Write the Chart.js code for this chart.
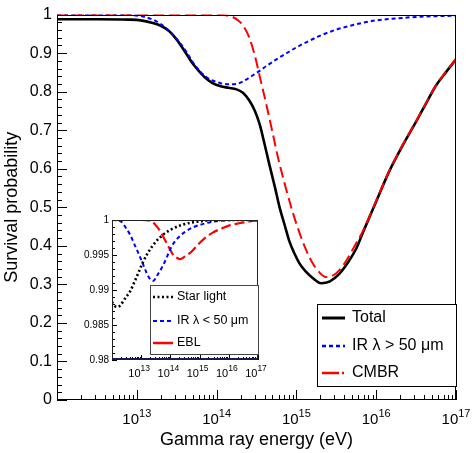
<!DOCTYPE html>
<html><head><meta charset="utf-8">
<script src="https://cdn.jsdelivr.net/npm/chart.js@4"></script>
<style>
html,body{margin:0;padding:0;background:#fff;overflow:hidden}
#wrap{position:relative;width:474px;height:453px}
#main{position:absolute;left:0;top:0}
#inset{position:absolute;left:64px;top:205px}
</style></head><body>
<div id="wrap"><canvas id="main" width="474" height="453"></canvas><canvas id="inset" width="215" height="190"></canvas></div>
<script>
// ---------- data (x = log10 of gamma ray energy in eV) ----------
const xTickExponents = [13, 14, 15, 16, 17];
const mainYTickValues = [0, 0.1, 0.2, 0.3, 0.4, 0.5, 0.6, 0.7, 0.8, 0.9, 1];
const insetYTickValues = [0.98, 0.985, 0.99, 0.995, 1];
const xTitle = 'Gamma ray energy (eV)';
const yTitle = 'Survival probability';

const totalLabel = 'Total';
const totalLogE = [12.0, 12.5, 12.9, 13.05, 13.2, 13.3, 13.4, 13.5, 13.6, 13.7, 13.79, 13.87, 13.95, 14.05, 14.15, 14.25, 14.33, 14.41, 14.48, 14.54, 14.6, 14.66, 14.73, 14.79, 14.85, 14.91, 14.98, 15.04, 15.12, 15.2, 15.31, 15.42, 15.54, 15.65, 15.75, 15.83, 16.0, 16.16, 16.33, 16.5, 16.62, 16.75, 16.88, 17.0];
const totalProb = [0.988, 0.988, 0.987, 0.985, 0.978, 0.971, 0.958, 0.935, 0.905, 0.873, 0.851, 0.834, 0.822, 0.814, 0.810, 0.806, 0.797, 0.777, 0.750, 0.715, 0.665, 0.612, 0.553, 0.499, 0.456, 0.413, 0.378, 0.354, 0.333, 0.317, 0.303, 0.308, 0.328, 0.358, 0.393, 0.433, 0.515, 0.592, 0.660, 0.722, 0.768, 0.816, 0.852, 0.884];

const irLongLabel = 'IR \u03bb > 50 \u03bcm';
const irLongLogE = [12.0, 12.6, 12.9, 13.08, 13.2, 13.29, 13.37, 13.45, 13.54, 13.62, 13.7, 13.79, 13.87, 13.95, 14.05, 14.15, 14.25, 14.35, 14.45, 14.54, 14.62, 14.75, 14.87, 15.0, 15.15, 15.33, 15.5, 15.75, 16.0, 16.25, 16.5, 16.75, 17.0];
const irLongProb = [1.0, 1.0, 0.999, 0.995, 0.987, 0.977, 0.964, 0.948, 0.927, 0.904, 0.877, 0.853, 0.838, 0.829, 0.822, 0.819, 0.820, 0.829, 0.842, 0.854, 0.866, 0.884, 0.899, 0.915, 0.931, 0.948, 0.961, 0.975, 0.985, 0.990, 0.994, 0.996, 0.997];

const cmbrLabel = 'CMBR';
const cmbrLogE = [12.0, 13.0, 14.0, 14.12, 14.2, 14.27, 14.33, 14.41, 14.48, 14.54, 14.62, 14.7, 14.78, 14.87, 14.95, 15.04, 15.12, 15.2, 15.28, 15.37, 15.45, 15.54, 15.62, 15.72, 15.83, 16.0, 16.16, 16.33, 16.5, 16.62, 16.75, 16.88, 17.0];
const cmbrProb = [1.0, 1.0, 1.0, 0.998, 0.994, 0.985, 0.972, 0.940, 0.893, 0.840, 0.770, 0.695, 0.620, 0.548, 0.490, 0.433, 0.390, 0.356, 0.333, 0.319, 0.322, 0.337, 0.360, 0.396, 0.437, 0.517, 0.593, 0.661, 0.723, 0.769, 0.817, 0.853, 0.885];

// inset
const starLabel = 'Star light';
const starLogE = [12.0, 12.1, 12.2, 12.3, 12.4, 12.5, 12.62, 12.72, 12.9, 13.05, 13.23, 13.5, 13.75, 14.0, 14.4, 14.8, 15.2, 15.7, 16.2, 17.0];
const starProb = [0.9883, 0.9877, 0.9876, 0.9879, 0.9885, 0.9891, 0.9898, 0.9907, 0.9924, 0.9939, 0.9953, 0.9969, 0.9979, 0.9986, 0.9993, 0.9997, 0.9999, 1.0, 1.0, 1.0];

const irShortLabel = 'IR \u03bb < 50 \u03bcm';
const irShortLogE = [12.0, 12.2, 12.33, 12.47, 12.62, 12.76, 12.9, 13.05, 13.19, 13.3, 13.41, 13.58, 13.76, 13.9, 14.04, 14.25, 14.5, 14.8, 15.18, 15.5, 15.76, 16.2, 17.0];
const irShortProb = [1.0, 0.99995, 0.9997, 0.9989, 0.9979, 0.9966, 0.9953, 0.9938, 0.9924, 0.9916, 0.9913, 0.9923, 0.9936, 0.9949, 0.9962, 0.9974, 0.9983, 0.9990, 0.9995, 0.9998, 0.9999, 1.0, 1.0];

const eblLabel = 'EBL';
const eblLogE = [12.0, 13.0, 13.3, 13.47, 13.65, 13.82, 13.96, 14.1, 14.22, 14.33, 14.5, 14.73, 14.95, 15.18, 15.45, 15.76, 16.0, 16.32, 16.6, 16.9, 17.0];
const eblProb = [1.0, 1.0, 0.9999, 0.9994, 0.9984, 0.9971, 0.9960, 0.9950, 0.9946, 0.9944, 0.9948, 0.9955, 0.9965, 0.9974, 0.9982, 0.9988, 0.9992, 0.9995, 0.9997, 0.9999, 0.9999];

// ---------- helpers ----------
const FONT = '"Liberation Sans", Arial, Helvetica, sans-serif';
Chart.defaults.font.family = FONT;
Chart.defaults.color = '#000';
const pts = (xs, ys) => xs.map((e, i) => ({x: Math.pow(10, e), y: ys[i]}));

// x tick labels "10" with a raised exponent, placed at the scale's tick positions
const powLabels = {
  id: 'powLabels',
  afterDraw(chart, args, o) {
    const ctx = chart.ctx, x = chart.scales.x;
    ctx.save();
    ctx.fillStyle = '#000'; ctx.textBaseline = 'alphabetic'; ctx.textAlign = 'left';
    x.ticks.forEach(t => {
      const exp = String(Math.round(Math.log10(t.value)));
      ctx.font = o.baseSize + 'px ' + FONT; const wb = ctx.measureText('10').width;
      ctx.font = o.expSize + 'px ' + FONT; const we = ctx.measureText(exp).width;
      const cx = x.getPixelForValue(t.value) + (o.dx || 0);
      const x0 = cx - (wb + we) / 2;
      ctx.font = o.baseSize + 'px ' + FONT; ctx.fillText('10', x0, o.baseY);
      ctx.font = o.expSize + 'px ' + FONT; ctx.fillText(exp, x0 + wb, o.expY);
    });
    ctx.restore();
  }
};

const frameTicks = {
  id: 'frameTicks',
  beforeDraw(chart, args, o) {
    const a = chart.chartArea, ctx = chart.ctx;
    if (o.fill) { ctx.save(); ctx.fillStyle = o.fill; ctx.fillRect(a.left, a.top, a.right - a.left, a.bottom - a.top); ctx.restore(); }
  },
  beforeDatasetsDraw(chart, args, o) {
    const {ctx, chartArea: a, scales: {x, y}} = chart;
    ctx.save();
    ctx.strokeStyle = o.tickColor || '#000'; ctx.lineWidth = 1;
    ctx.beginPath();
    const nMin = Math.round((y.max - y.min) / o.yMinor);
    for (let i = 0; i <= nMin; i++) {
      const v = y.min + i * o.yMinor;
      const isMajor = Math.abs(Math.round(v / o.yMajor) * o.yMajor - v) < 1e-9;
      const py = Math.round(y.getPixelForValue(v)) + 0.5;
      ctx.moveTo(a.left, py); ctx.lineTo(a.left + (isMajor ? o.major : o.minor), py);
    }
    for (let d = 12; d <= 17; d++) {
      for (let k = 1; k <= 9; k++) {
        const v = k * Math.pow(10, d);
        if (v < x.min * 0.999 || v > x.max * 1.001) continue;
        const px = Math.round(x.getPixelForValue(v)) + 0.5;
        ctx.moveTo(px, a.bottom); ctx.lineTo(px, a.bottom - (k === 1 ? o.major : o.minor));
      }
    }
    ctx.stroke();
    ctx.restore();
  },
  afterDatasetsDraw(chart, args, o) {
    const {ctx, chartArea: a} = chart;
    ctx.save();
    ctx.strokeStyle = o.frameColor || '#000'; ctx.lineWidth = 1;
    const l = Math.round(a.left) + 0.5, t = Math.round(a.top) + 0.5, r = Math.round(a.right) - 0.5, b = Math.round(a.bottom) - 0.5;
    ctx.strokeRect(l, t, r - l, b - t);
    if (o.bottomLine) {
      ctx.strokeStyle = o.bottomLine; ctx.lineWidth = 2;
      ctx.beginPath(); ctx.moveTo(a.left, Math.round(a.bottom) - 1); ctx.lineTo(a.right, Math.round(a.bottom) - 1); ctx.stroke();
    }
    ctx.restore();
  }
};

const boxLegend = {
  id: 'boxLegend',
  afterDraw(chart, args, o) {
    if (!o.items) return;
    const ctx = chart.ctx;
    ctx.save();
    ctx.fillStyle = '#fff'; ctx.fillRect(o.x, o.y, o.w, o.h);
    ctx.strokeStyle = o.border; ctx.lineWidth = 1; ctx.strokeRect(o.x + 0.5, o.y + 0.5, o.w, o.h);
    ctx.font = o.font; ctx.textBaseline = 'middle'; ctx.textAlign = 'left';
    o.items.forEach(it => {
      const ds = chart.data.datasets[it.dataset];
      ctx.beginPath(); ctx.setLineDash(it.dash || []); ctx.lineCap = 'butt';
      ctx.strokeStyle = ds.borderColor; ctx.lineWidth = it.width;
      ctx.moveTo(o.sx0, it.y); ctx.lineTo(o.sx1, it.y); ctx.stroke();
      ctx.setLineDash([]); ctx.fillStyle = '#000';
      ctx.fillText(ds.label, o.tx, it.y);
    });
    ctx.restore();
  }
};

const lineDs = (label, xs, ys, color, width, dash, order) => ({
  label, data: pts(xs, ys), borderColor: color, backgroundColor: color, borderWidth: width,
  borderDash: dash, pointRadius: 0, cubicInterpolationMode: 'monotone', fill: false, order
});

// ---------- main chart ----------
new Chart(document.getElementById('main'), {
  type: 'line',
  data: {datasets: [
    lineDs(totalLabel, totalLogE, totalProb, '#000000', 2.6, [], 3),
    lineDs(irLongLabel, irLongLogE, irLongProb, '#0000ff', 2, [4, 3], 2),
    lineDs(cmbrLabel, cmbrLogE, cmbrProb, '#ff0000', 2, [11, 5], 1)
  ]},
  options: {
    responsive: false, animation: false, devicePixelRatio: 1,
    layout: {padding: {left: 0, right: 18, top: 13, bottom: 0}},
    scales: {
      x: {
        type: 'logarithmic', min: 1e12, max: 1e17,
        afterBuildTicks: s => { s.ticks = xTickExponents.map(e => ({value: Math.pow(10, e)})); },
        afterFit: s => { s.height = 53; },
        grid: {display: false, drawTicks: false}, border: {display: false},
        ticks: {display: false, autoSkip: false, maxRotation: 0},
        title: {display: true, text: xTitle, font: {size: 18}, color: '#000', padding: {top: 0, bottom: 2}}
      },
      y: {
        type: 'linear', min: 0, max: 1,
        afterBuildTicks: s => { s.ticks = mainYTickValues.map(v => ({value: v})); },
        afterFit: s => { s.width = 57; },
        grid: {display: false, drawTicks: false}, border: {display: false},
        ticks: {padding: 5, font: {size: 16}, color: '#000', callback: v => String(+v.toFixed(2))},
        title: {display: true, text: yTitle, font: {size: 18}, color: '#000', padding: {top: 1, bottom: 0}}
      }
    },
    plugins: {
      legend: {display: false}, tooltip: {enabled: false},
      frameTicks: {yMajor: 0.1, yMinor: 0.02, major: 10, minor: 5},
      powLabels: {baseSize: 15, expSize: 11, baseY: 424, expY: 417, dx: 0},
      boxLegend: {
        x: 317, y: 304, w: 139, h: 82, border: '#000', font: '16px ' + FONT,
        sx0: 322, sx1: 345, tx: 352,
        items: [
          {dataset: 0, y: 318, width: 3, dash: []},
          {dataset: 1, y: 346, width: 2.5, dash: [4, 3]},
          {dataset: 2, y: 373, width: 2.5, dash: [17, 3, 2, 3]}
        ]
      }
    }
  },
  plugins: [frameTicks, powLabels, boxLegend]
});

// ---------- inset chart ----------
new Chart(document.getElementById('inset'), {
  type: 'line',
  data: {datasets: [
    lineDs(starLabel, starLogE, starProb, '#000000', 2.6, [2, 2.5], 1),
    lineDs(irShortLabel, irShortLogE, irShortProb, '#0000ff', 2, [4, 3], 2),
    lineDs(eblLabel, eblLogE, eblProb, '#ff0000', 2.2, [10, 4], 3)
  ]},
  options: {
    responsive: false, animation: false, devicePixelRatio: 1,
    layout: {padding: {left: 0, right: 21, top: 15, bottom: 0}},
    scales: {
      x: {
        type: 'logarithmic', min: 1e12, max: 1e17,
        afterBuildTicks: s => { s.ticks = xTickExponents.map(e => ({value: Math.pow(10, e)})); },
        afterFit: s => { s.height = 35; },
        grid: {display: false, drawTicks: false}, border: {display: false},
        ticks: {display: false, autoSkip: false, maxRotation: 0}
      },
      y: {
        type: 'linear', min: 0.98, max: 1,
        afterBuildTicks: s => { s.ticks = insetYTickValues.map(v => ({value: v})); },
        afterFit: s => { s.width = 48; },
        grid: {display: false, drawTicks: false}, border: {display: false},
        ticks: {padding: 3, font: {size: 10}, color: '#000', callback: v => String(+v.toFixed(3))}
      }
    },
    plugins: {
      legend: {display: false}, tooltip: {enabled: false},
      frameTicks: {yMajor: 0.005, yMinor: 0.001, major: 5, minor: 3, fill: '#fff', frameColor: '#222', bottomLine: '#1a1a4a'},
      powLabels: {baseSize: 11, expSize: 8.5, baseY: 172, expY: 166, dx: -2},
      boxLegend: {
        x: 86, y: 80, w: 108, h: 69, border: '#444', font: '12.5px ' + FONT,
        sx0: 89, sx1: 109, tx: 113,
        items: [
          {dataset: 0, y: 92, width: 2.6, dash: [2, 2.5]},
          {dataset: 1, y: 116, width: 2.2, dash: [4, 3]},
          {dataset: 2, y: 138, width: 2.5, dash: []}
        ]
      }
    }
  },
  plugins: [frameTicks, powLabels, boxLegend]
});
</script>
</body></html>
